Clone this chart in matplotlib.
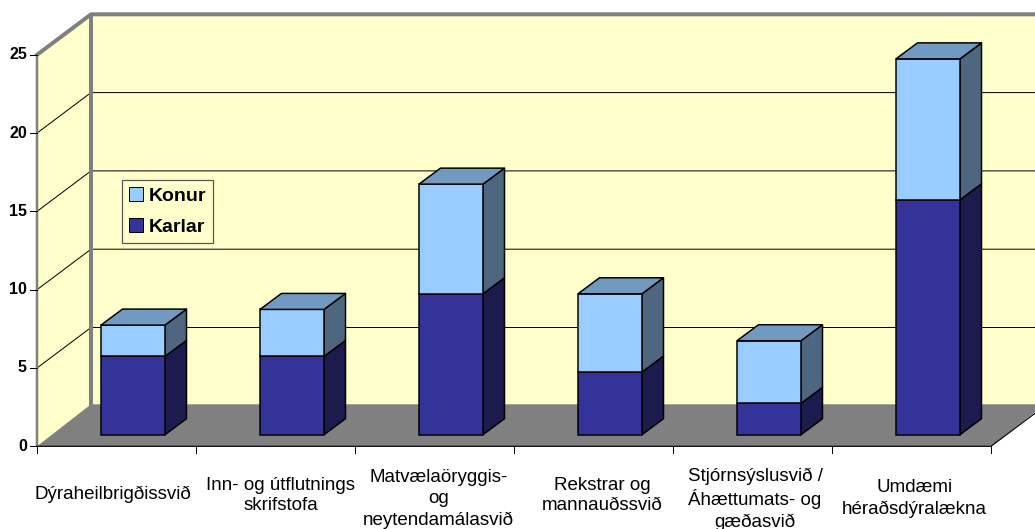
import matplotlib
matplotlib.use("Agg")
from matplotlib import pyplot as plt
from matplotlib.patches import Patch, Polygon

categories = ["Dýraheilbrigðissvið", "Inn- og útflutnings\nskrifstofa",
              "Matvælaöryggis-\nog\nneytendamálasvið", "Rekstrar og\nmannauðssvið",
              "Stjórnsýslusvið /\nÁhættumats- og\ngæðasvið", "Umdæmi\nhéraðsdýralækna"]
karlar = [5, 5, 9, 4, 2, 15]
konur = [2, 3, 7, 5, 4, 9]
y_ticks = [0, 5, 10, 15, 20, 25]

# one x unit is one category (159 px), one y unit is one person (15.66 px)
px_x = 159.0
px_y = 15.66
W, H = 1035, 529
base_y = 446.3
depth_x, depth_y = 54 / px_x, 40.5 / px_y      # wall depth
bar_dx, bar_dy = 21.5 / px_x, 16 / px_y        # bar depth
bar_left, bar_w = 64 / px_x, 64 / px_x
bar_base = 11.6 / px_y

plt.rcParams["font.family"] = ["Liberation Sans", "DejaVu Sans"]
fig = plt.figure(figsize=(W / 100, H / 100), dpi=100)
ax = fig.add_axes([0, 0, 1, 1])
ax.set_xlim(-37 / px_x, (W - 37) / px_x)
ax.set_ylim(-(H - base_y) / px_y, base_y / px_y)
ax.axis("off")

n = len(categories)
top = y_ticks[-1]
px = 1 / 100 * 72   # one pixel in points

# walls and floor
ax.add_patch(Polygon([(0, 0), (depth_x, depth_y), (depth_x, top + depth_y), (0, top)],
                     fc="#FFFFCC", ec="none", zorder=1))
ax.add_patch(Polygon([(depth_x, depth_y), (n + depth_x, depth_y), (n + depth_x, top + depth_y),
                      (depth_x, top + depth_y)], fc="#FFFFCC", ec="none", zorder=1))
floor_y = depth_y + 1.5 / px_y
ax.add_patch(Polygon([(0, 0), (n, 0), (n + depth_x, floor_y), (depth_x, floor_y)],
                     fc="#808080", ec="none", zorder=2))

# gridlines
for v in y_ticks[1:-1]:
    ax.plot([0, depth_x, n + depth_x], [v, v + depth_y, v + depth_y], c="black", lw=1 * px, zorder=2)

# wall borders
ax.plot([depth_x, depth_x], [depth_y, top + depth_y], c="#808080", lw=4 * px, zorder=3, solid_capstyle="butt")
ax.plot([0, depth_x, n + depth_x], [top, top + depth_y, top + depth_y], c="#808080", lw=4 * px, zorder=3)
ax.plot([0, 0], [0, top], c="#808080", lw=2.5 * px, zorder=3, solid_capstyle="butt")

# front axis
ax.plot([0, n, n + depth_x], [0, 0, depth_y], c="black", lw=1.2 * px, zorder=4)
for i in range(n + 1):
    ax.plot([i, i], [0, -7 / px_y], c="black", lw=1 * px, zorder=4)
for v in y_ticks:
    ax.plot([-7 / px_x, 0], [v, v], c="black", lw=1 * px, zorder=4)
    ax.text(-10 / px_x, v, str(v), ha="right", va="center", fontsize=11.5, fontweight="bold")


def draw_block(i, start, height, front, side):
    x0 = i + bar_left
    x1 = x0 + bar_w
    y0 = bar_base + start
    y1 = y0 + height
    ax.add_patch(Polygon([(x1, y0), (x1 + bar_dx, y0 + bar_dy), (x1 + bar_dx, y1 + bar_dy), (x1, y1)],
                         fc=side, ec="black", lw=1.5 * px, zorder=5, joinstyle="round"))
    ax.bar(x0, height, bar_w, bottom=y0, align="edge", color=front, edgecolor="black",
           linewidth=1.5 * px, zorder=6)


for i in range(n):
    draw_block(i, 0, karlar[i], "#333399", "#1B1B4D")
    draw_block(i, karlar[i], konur[i], "#99CCFF", "#4F6680")
    xr = i + bar_left
    yt = bar_base + karlar[i] + konur[i]
    ax.add_patch(Polygon([(xr, yt), (xr + bar_w, yt), (xr + bar_w + bar_dx, yt + bar_dy), (xr + bar_dx, yt + bar_dy)],
                         fc="#7299BF", ec="black", lw=1.5 * px, zorder=6))

# category labels
label_x = [112.5, 281, 438.5, 602, 755, 914.5]
label_y = [494, 495.5, 499, 495.5, 499, 498.5]
for name, lx, ly in zip(categories, label_x, label_y):
    ax.text((lx - 37) / px_x, (base_y - ly) / px_y, name, ha="center", va="center",
            fontsize=13.5, linespacing=1.3, color="black")

handles = [Patch(fc="#99CCFF", ec="black", lw=1 * px, label="Konur"),
           Patch(fc="#333399", ec="black", lw=1 * px, label="Karlar")]
leg = ax.legend(handles=handles, loc="upper left", bbox_to_anchor=(122 / W, 1 - 180 / H),
                borderaxespad=0, fancybox=False, framealpha=1, facecolor="#FFFFCC", edgecolor="#555555",
                handlelength=0.72, handleheight=0.72, handletextpad=0.3, borderpad=0.36, labelspacing=0.68,
                prop={"size": 14, "weight": "bold"})
leg.get_frame().set_linewidth(1.2 * px)
leg.set_zorder(8)

plt.savefig("out.png", dpi=100)
